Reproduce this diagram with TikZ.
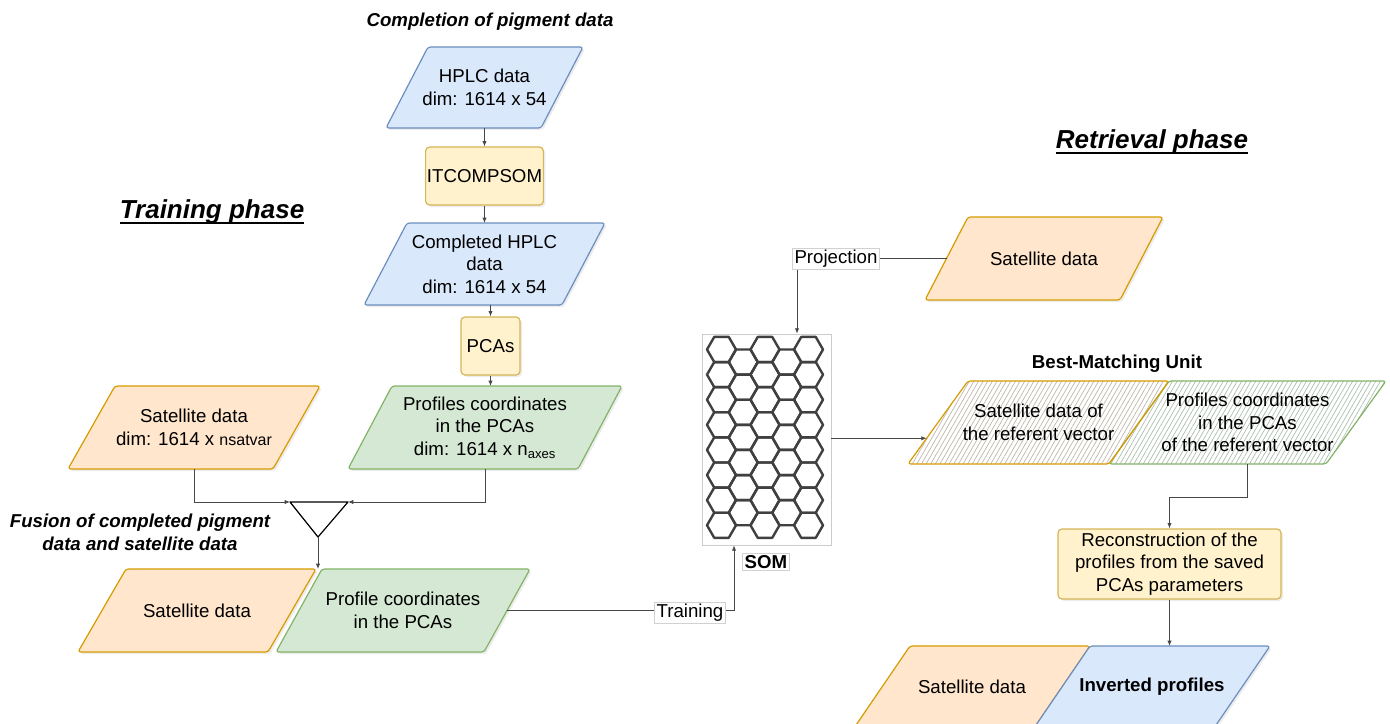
\documentclass[tikz,border=0pt]{standalone}
\usepackage{fontspec}
\setmainfont{Liberation Sans}
\usetikzlibrary{arrows.meta,patterns.meta,shadows,calc}
\definecolor{bF}{HTML}{DAE8FC}\definecolor{bD}{HTML}{6C8EBF}
\definecolor{yF}{HTML}{FFF2CC}\definecolor{yD}{HTML}{D6B656}
\definecolor{gF}{HTML}{D5E8D4}\definecolor{gD}{HTML}{82B366}
\definecolor{oF}{HTML}{FFE6CC}\definecolor{oD}{HTML}{D79B00}
\definecolor{hatchO}{RGB}{190,180,168}
\definecolor{hatchG}{RGB}{172,188,172}
\pgfdeclarelayer{bg}
\pgfsetlayers{bg,main}
\begin{document}
\begin{tikzpicture}[x=0.75pt,y=-0.75pt,
  txt/.style={font=\fontsize{14}{17}\selectfont, align=center, text=black},
  shad/.style={drop shadow={shadow xshift=1.5pt,shadow yshift=-1.5pt,opacity=0.15}},
  pnode/.style 2 args={rectangle, minimum width=#1*0.75pt, minimum height=#2*0.75pt, inner sep=0pt, outer sep=0pt, txt},
  pshape/.style={line width=0.9pt, line join=round, rounded corners=2pt},
  box/.style={rectangle, rounded corners=3pt, fill=yF, draw=yD, line width=0.9pt, txt, inner sep=1pt, shad},
  lbl/.style={txt, fill=white, draw=black!18, line width=0.5pt, inner sep=1.5pt},
  ttl/.style={font=\fontsize{14}{17}\selectfont\bfseries\itshape, align=center},
  phase/.style={font=\fontsize{19.5}{23}\selectfont\bfseries\itshape, inner sep=0pt},
  conn/.style={draw=black!72, line width=0.6pt, -{Latex[length=4pt,width=3.2pt]}},
  hex/.style={draw=black!75, line width=1.8pt, line join=round},
  hatch/.style={pattern={Lines[angle=60,distance=3pt,line width=0.5pt]}, pattern color=#1}
]
\begin{pgfonlayer}{bg}
\fill[white] (0,0) rectangle (1390,724);
\end{pgfonlayer}
\useasboundingbox (0,0) rectangle (1390,724);

% titles
\node[ttl] (t1) at (490,22) {Completion of pigment data};
\node[phase, anchor=base] (ph1) at (212,218) {Training phase};
\draw[line width=1.3pt] ([yshift=-4pt]ph1.base west) -- ([yshift=-4pt]ph1.base east);
\node[phase, anchor=base] (ph2) at (1152,148) {Retrieval phase};
\draw[line width=1.3pt] ([yshift=-4pt]ph2.base west) -- ([yshift=-4pt]ph2.base east);
\node[ttl] (t2) at (140,532) {Fusion of completed pigment\\data and satellite data};
\node[font=\fontsize{14}{17}\selectfont\bfseries] (t3) at (1117,364) {Best-Matching Unit};

% data nodes (text), parallelograms drawn behind
\node[pnode={197}{81}] (hplc) at (484.5,87.5) {HPLC data\\dim: 1614 x 54};
\node[box, minimum width=117*0.75pt, minimum height=58*0.75pt] (itc) at (484.5,176) {ITCOMPSOM};
\node[pnode={241}{82}] (chplc) at (484.5,264) {Completed HPLC\\data\\dim: 1614 x 54};
\node[box, minimum width=59*0.75pt, minimum height=58*0.75pt] (pcas) at (490.5,346) {PCAs};
\node[pnode={274}{83}] (prof) at (485,427.5) {Profiles coordinates\\in the PCAs\\dim: 1614 x n\textsubscript{axes}};
\node[pnode={252}{83}] (sat1) at (194,427.5) {Satellite data\\dim: 1614 x {\fontsize{12}{14}\selectfont nsatvar}};
\node[pnode={238}{83}] (bsat) at (197,610.5) {Satellite data};
\node[pnode={254}{83}] (bprof) at (403,610.5) {Profile coordinates\\in the PCAs};
\node[pnode={238}{83}] (sat2) at (1044,258.5) {Satellite data};
\node[pnode={261}{83}] (bmu1) at (1038.5,422.5) {Satellite data of\\the referent vector};
\node[pnode={277}{83}] (bmu2) at (1247.5,422.5) {Profiles coordinates\\in the PCAs\\of the referent vector};
\node[box, minimum width=223*0.75pt, minimum height=70*0.75pt] (recon) at (1169.5,564) {Reconstruction of the\\profiles from the saved\\PCAs parameters};
\node[pnode={236}{82}] (bsat2) at (972,687) {Satellite data};
\node[pnode={236}{82}, font=\fontsize{14}{17}\selectfont\bfseries] (inv) at (1152,687) {Inverted profiles};

\begin{pgfonlayer}{bg}
\foreach \n/\s/\f/\d in {hplc/42/bF/bD, chplc/43/bF/bD, prof/44/gF/gD, sat1/47/oF/oD,
    bsat/48/oF/oD, bprof/46/gF/gD, sat2/43/oF/oD, bsat2/56/oF/oD, inv/56/bF/bD} {
  \draw[pshape, fill=\f, draw=\d, shad] ($(\n.north west)+(\s,0)$) -- (\n.north east)
     -- ($(\n.south east)+(-\s,0)$) -- (\n.south west) -- cycle;
}
\draw[pshape, hatch=hatchG, draw=gD] ($(bmu2.north west)+(60,0)$) -- (bmu2.north east)
     -- ($(bmu2.south east)+(-60,0)$) -- (bmu2.south west) -- cycle;
\draw[pshape, hatch=hatchO, draw=oD] ($(bmu1.north west)+(60,0)$) -- (bmu1.north east)
     -- ($(bmu1.south east)+(-60,0)$) -- (bmu1.south west) -- cycle;
\end{pgfonlayer}

% merge triangle
\coordinate (mL) at (290,502);
\coordinate (mR) at (348,502);
\coordinate (mB) at (318,537);
\draw[black, line width=0.9pt, line join=round] (mL) -- (mR) -- (mB) -- cycle;

% SOM
\node[draw=black!20, line width=0.5pt, minimum width=129*0.75pt, minimum height=211*0.75pt, inner sep=0pt] (somf) at (766.5,439.5) {};
\foreach \i in {0,...,4} {
  \pgfmathsetmacro\cx{721.5+\i*21.75}
  \pgfmathtruncatemacro\odd{mod(\i,2)}
  \pgfmathtruncatemacro\nr{7-\odd}
  \pgfmathsetmacro\off{12.555*\odd}
  \foreach \j in {0,...,\nr} {
    \pgfmathsetmacro\cy{349.5+\off+\j*25.11}
    \draw[hex] (\cx+14.5,\cy) -- (\cx+7.25,\cy-12.555) -- (\cx-7.25,\cy-12.555) -- (\cx-14.5,\cy) -- (\cx-7.25,\cy+12.555) -- (\cx+7.25,\cy+12.555) -- cycle;
  }
}
\node[lbl, font=\fontsize{14}{17}\selectfont\bfseries] (soml) at (766,562) {SOM};

% connectors
\draw[conn] (hplc.south) -- (itc.north);
\draw[conn] (itc.south) -- (chplc.north);
\draw[conn] (pcas.north |- chplc.south) -- (pcas.north);
\draw[conn] (pcas.south) -- (pcas.south |- prof.north);
\draw[conn] (sat1.south) |- (mL);
\draw[conn] (prof.south) |- (mR);
\draw[conn] (mB) -- (mB |- bsat.north);
\coordinate (bprofE) at ($(bprof.east)+(-23,0)$);
\coordinate (somIn) at ($(somf.south)+(-32.5,0)$);
\draw[conn] (bprofE) -| (somIn);
\node[lbl] (trl) at (690,613) {Training};
\coordinate (sat2W) at ($(sat2.west)+(21.5,0)$);
\coordinate (somTop) at ($(somf.north)+(30.5,0)$);
\draw[conn] (sat2W) -| (somTop);
\node[lbl] (prl) at (836,259) {Projection};
\coordinate (bmuTL) at ($(bmu1.north west)+(60,0)$);
\coordinate (bmuIn) at ($(bmu1.south west)!0.31!(bmuTL)$);
\draw[conn] (somf.east |- bmuIn) -- (bmuIn);
\draw[conn] (bmu2.south) -- ++(0,33) -| (recon.north);
\draw[conn] (recon.south) -- (recon.south |- inv.north);
\end{tikzpicture}
\end{document}
